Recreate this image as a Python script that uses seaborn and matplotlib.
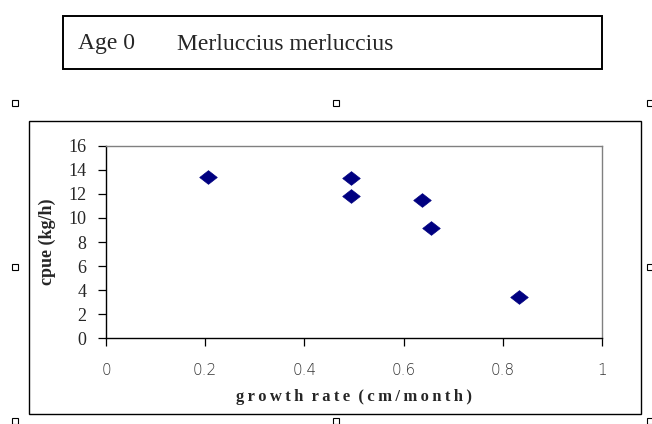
import matplotlib
matplotlib.use("Agg")
import matplotlib.pyplot as plt
import seaborn as sns
import pandas as pd
from matplotlib.patches import Rectangle

growth_rate = [0.206, 0.493, 0.493, 0.638, 0.655, 0.833]
cpue = [13.4, 13.35, 11.85, 11.5, 9.2, 3.45]
x_ticks = [0, 0.2, 0.4, 0.6, 0.8, 1]
x_tick_labels = ["0", "0.2", "0.4", "0.6", "0.8", "1"]
y_ticks = [0, 2, 4, 6, 8, 10, 12, 14, 16]

df = pd.DataFrame({"growth rate": growth_rate, "cpue": cpue})

sns.set_theme(style="white")
plt.rcParams["font.family"] = ["Liberation Serif", "DejaVu Serif"]

W, H = 652, 424
fig = plt.figure(figsize=(W / 100, H / 100), dpi=100)

def fx(px):
    return px / W

def fy(py):
    return 1 - py / H

# outer chart frame and title box (figure coordinates)
fig.patches.append(Rectangle((fx(29), fy(414)), fx(641) - fx(29), fy(121) - fy(414),
                             transform=fig.transFigure, fill=False, edgecolor="black",
                             linewidth=1.0, zorder=0))
fig.patches.append(Rectangle((fx(63), fy(69)), fx(602) - fx(63), fy(16) - fy(69),
                             transform=fig.transFigure, fill=False, edgecolor="black",
                             linewidth=1.4, zorder=0))
fig.text(fx(78), fy(44), "Age 0", fontsize=17, va="center", ha="left")
fig.text(fx(177), fy(44), "Merluccius merluccius", fontsize=17, va="center", ha="left")

# selection handles
for hx, hy in [(15, 103), (336, 103), (650, 103), (15, 267), (650, 267),
               (15, 421), (336, 421), (650, 421)]:
    fig.patches.append(Rectangle((fx(hx - 3), fy(hy + 3)), fx(6), 6 / H,
                                 transform=fig.transFigure, fill=True, facecolor="white",
                                 edgecolor="black", linewidth=0.8, zorder=1))

ax = fig.add_axes([fx(106), fy(338.3), fx(602) - fx(106), fy(145.7) - fy(338.3)])
diamond = [(-1, 0), (0, 0.78), (1, 0), (0, -0.78), (-1, 0)]
sns.scatterplot(data=df, x="growth rate", y="cpue", ax=ax, marker=diamond,
                s=160, color="#000080", edgecolor="#000080", linewidth=0.5, zorder=3)

ax.set_xlim(0, 1)
ax.set_ylim(0, 16)
ax.set_xticks(x_ticks)
ax.set_xticklabels(x_tick_labels, fontsize=11, color="#333333",
                   family=["DejaVu Sans"], fontweight="light")
ax.set_yticks(y_ticks)
ax.set_yticklabels([str(v) for v in y_ticks], fontsize=13)
ax.tick_params(axis="both", direction="out", length=6, width=0.9, color="black",
               bottom=True, left=True)
ax.tick_params(axis="x", pad=12)
ax.tick_params(axis="y", pad=8, length=6)
for side in ["top", "right"]:
    ax.spines[side].set_color("#808080")
    ax.spines[side].set_linewidth(1.0)
for side in ["left", "bottom"]:
    ax.spines[side].set_color("black")
    ax.spines[side].set_linewidth(1.0)
ax.grid(False)

ts = "\u2009"
xlabel = ts.join("growth") + "  " + ts.join("rate") + "  " + ts.join("(cm/month)")
ax.set_xlabel(xlabel, fontsize=12, fontweight="bold", labelpad=8)
ax.set_ylabel("cpue (kg/h)", fontsize=13, fontweight="bold", labelpad=9)

fig.savefig("out.png", dpi=100)
